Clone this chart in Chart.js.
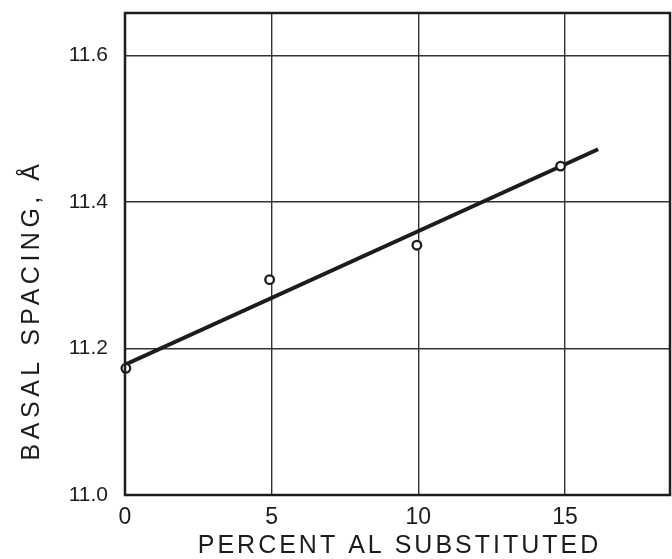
<!DOCTYPE html>
<html>
<head>
<meta charset="utf-8">
<script src="https://cdn.jsdelivr.net/npm/chart.js@4.4.0/dist/chart.umd.min.js"></script>
<style>
  html, body { margin: 0; padding: 0; background: #fff; }
  #wrap { width: 672px; height: 559px; }
</style>
</head>
<body>
<div id="wrap"><canvas id="grafica"></canvas></div>
<script>
// datos (los circulos quedan un poco a la izquierda de la reticula)
const porcentajeAl = [0.03, 4.93, 9.95, 14.85];
const espaciado = [11.173, 11.294, 11.341, 11.449];
// recta ajustada (extremos como se ven en la figura)
const rectaX = [0, 16.13];
const rectaY = [11.178, 11.472];
const ticksX = [0, 5, 10, 15];
const ticksY = [11.0, 11.2, 11.4, 11.6];

const tituloX = 'PERCENT AL SUBSTITUTED';
const tituloY = 'BASAL SPACING, Å';

const tinta = '#1c1c1c';

// marco y titulos de ejes con espaciado de letras
const marcoYTitulos = {
  id: 'marcoYTitulos',
  afterDraw(chart) {
    const { ctx, chartArea: a } = chart;
    ctx.save();
    ctx.strokeStyle = tinta;
    ctx.lineWidth = 2.5;
    ctx.strokeRect(a.left, a.top, a.right - a.left, a.bottom - a.top);

    ctx.fillStyle = tinta;
    ctx.textAlign = 'center';
    ctx.textBaseline = 'middle';
    ctx.font = '25px "Liberation Sans", Arial, sans-serif';
    ctx.letterSpacing = '3px';
    ctx.fillText(tituloX, (a.left + a.right) / 2 + 2, a.bottom + 51);

    ctx.translate(32, a.bottom - 185);
    ctx.rotate(-Math.PI / 2);
    ctx.letterSpacing = '4.5px';
    ctx.fillText(tituloY, 0, 0);
    ctx.restore();
  }
};

new Chart(document.getElementById('grafica'), {
  type: 'scatter',
  data: {
    datasets: [
      {
        label: 'Basal spacing',
        data: porcentajeAl.map((x, i) => ({ x: x, y: espaciado[i] })),
        pointRadius: 4.3,
        pointBorderWidth: 2.3,
        pointBorderColor: tinta,
        pointBackgroundColor: '#fff',
        showLine: false,
        clip: false,
        order: 0
      },
      {
        label: 'Ajuste',
        data: rectaX.map((x, i) => ({ x: x, y: rectaY[i] })),
        showLine: true,
        borderColor: tinta,
        borderWidth: 4,
        pointRadius: 0,
        order: 1
      }
    ]
  },
  options: {
    responsive: true,
    maintainAspectRatio: false,
    animation: false,
    layout: { autoPadding: false, padding: { top: 13, right: 2, left: 0, bottom: 0 } },
    plugins: {
      legend: { display: false },
      tooltip: { enabled: false }
    },
    scales: {
      x: {
        type: 'linear',
        min: 0,
        max: 18.58,
        afterBuildTicks: s => { s.ticks = ticksX.map(v => ({ value: v })); },
        afterFit: s => {
          s.height = 64;
          s.paddingLeft = 0;
          s.paddingRight = 0;
        },
        border: { display: false },
        grid: { color: '#333', lineWidth: 1.4, drawTicks: false },
        ticks: {
          padding: 9,
          color: tinta,
          font: { family: '"Liberation Sans", Arial, sans-serif', size: 23 },
          callback: v => String(v)
        }
      },
      y: {
        type: 'linear',
        min: 11.0,
        max: 11.658,
        afterBuildTicks: s => { s.ticks = ticksY.map(v => ({ value: v })); },
        afterFit: s => {
          s.width = 125;
          s.paddingTop = 0;
          s.paddingBottom = 0;
        },
        border: { display: false },
        grid: { color: '#333', lineWidth: 1.4, drawTicks: false },
        ticks: {
          padding: 17,
          color: tinta,
          font: { family: '"Liberation Sans", Arial, sans-serif', size: 21 },
          callback: v => v.toFixed(1)
        }
      }
    }
  },
  plugins: [marcoYTitulos]
});
</script>
</body>
</html>
